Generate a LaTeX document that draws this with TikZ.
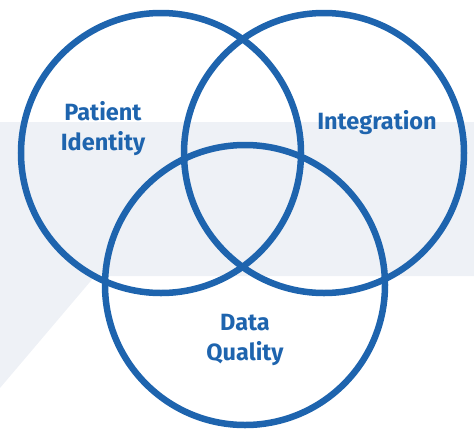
\documentclass[tikz,border=0pt]{standalone}
\usepackage{fontspec}
\setmainfont{Fira Sans}
\definecolor{vennblue}{HTML}{1E64AE}
\definecolor{bandgray}{HTML}{EEF1F6}
\usepackage{tikz}
\usetikzlibrary{positioning, shapes}

\begin{document}
\begin{tikzpicture}[x=1pt, y=-1pt, Ring/.style={circle, draw=vennblue, line width=6.5pt, minimum size=280pt, inner sep=0pt}, Lbl/.style={align=center, text=vennblue, font={\fontsize{23.5}{30}\selectfont\bfseries}}]
\useasboundingbox (0,0) rectangle (474,429);
% light band behind the circles
\fill[bandgray] (0,122) -- (474,122) -- (474,276) -- (95,276) -- (0,388) -- cycle;
\node[Ring] (PI) at (161,153) {};
\node[Ring] (Int) at (324,153) {};
\node[Ring] (DQ) at (245,285) {};
\node[Lbl] (PIl) at (103,129) {Patient\\Identity};
\node[Lbl] (Intl) at (377,123) {Integration};
\node[Lbl] (DQl) at (245,340) {Data\\Quality};
\end{tikzpicture}
\end{document}
